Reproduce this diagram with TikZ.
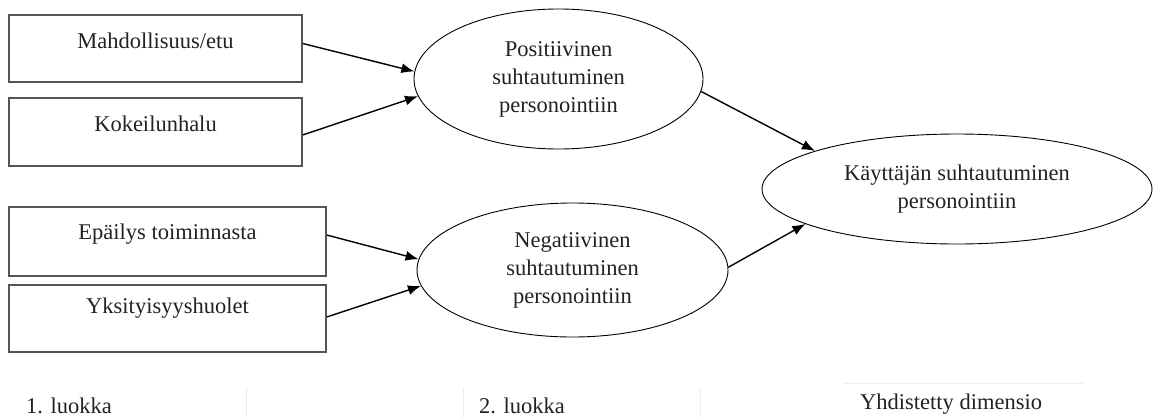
\documentclass[tikz,border=0pt]{standalone}
\usepackage{fontspec}
\setmainfont{Liberation Serif}
\usetikzlibrary{shapes.geometric,arrows.meta}
\definecolor{ink}{HTML}{222222}
\definecolor{boxline}{HTML}{555555}
\definecolor{rule}{HTML}{EDEDED}
\begin{document}
\begin{tikzpicture}[x=1pt,y=-1pt,
  every node/.style={font=\fontsize{22.5}{28}\selectfont, text=ink},
  factorbox/.style={draw=boxline, line width=1.4pt, rectangle, inner sep=0pt},
  boxtext/.style={anchor=center, inner sep=0pt},
  latent/.style={draw=black, line width=0.9pt, ellipse, inner sep=0pt, align=center},
  link/.style={line width=1.4pt, -{Latex[length=13pt,width=10pt]}},
  caption/.style={anchor=west, inner sep=0pt},
  cellrule/.style={draw=rule, line width=0.8pt}]
\useasboundingbox (0,0) rectangle (1153,418);

% first-level factors
\node[factorbox, minimum width=293pt, minimum height=67pt,
  label={[boxtext, yshift=-27pt]north:Mahdollisuus/etu}] (b1) at (155.5,48.5) {};
\node[factorbox, minimum width=293pt, minimum height=68pt,
  label={[boxtext, yshift=-27pt]north:Kokeilunhalu}] (b2) at (155.5,132) {};
\node[factorbox, minimum width=317pt, minimum height=69pt,
  label={[boxtext, yshift=-28pt]north:Epäilys toiminnasta}] (b3) at (167.5,241.5) {};
\node[factorbox, minimum width=317pt, minimum height=67pt,
  label={[boxtext, yshift=-24pt]north:Yksityisyyshuolet}] (b4) at (167.5,318.5) {};

% second-level factors
\node[latent, minimum width=289pt, minimum height=140pt] (p1) at (558.5,79)
  {Positiivinen\\suhtautuminen\\personointiin};
\node[latent, minimum width=311pt, minimum height=134pt] (p2) at (572.5,270)
  {Negatiivinen\\suhtautuminen\\personointiin};

% combined dimension
\node[latent, minimum width=390pt, minimum height=110pt] (e3) at (957,189)
  {Käyttäjän suhtautuminen\\personointiin};

% connectors
\draw[link] ([yshift=5pt]b1.east) -- (p1.177);
\draw[link] ([yshift=-3pt]b2.east) -- (p1.187);
\draw[link] ([yshift=6.5pt]b3.east) -- (p2.176);
\draw[link] ([yshift=1.5pt]b4.east) -- (p2.186);
\draw[link] (p1.-5) -- (e3.165);
\draw[link] (p2.1) -- (e3.193);

% column captions
\draw[cellrule] (246,387) -- (246,418);
\draw[cellrule] (463,387) -- (463,418);
\draw[cellrule] (700,387) -- (700,418);
\draw[cellrule] (844,383) -- (1083,383);
\node[caption] (c1) at (26,406) {1. luokka};
\node[caption] (c2) at (479,406) {2. luokka};
\node[caption] (c3) at (860,404) {Yhdistetty dimensio};
\end{tikzpicture}
\end{document}
